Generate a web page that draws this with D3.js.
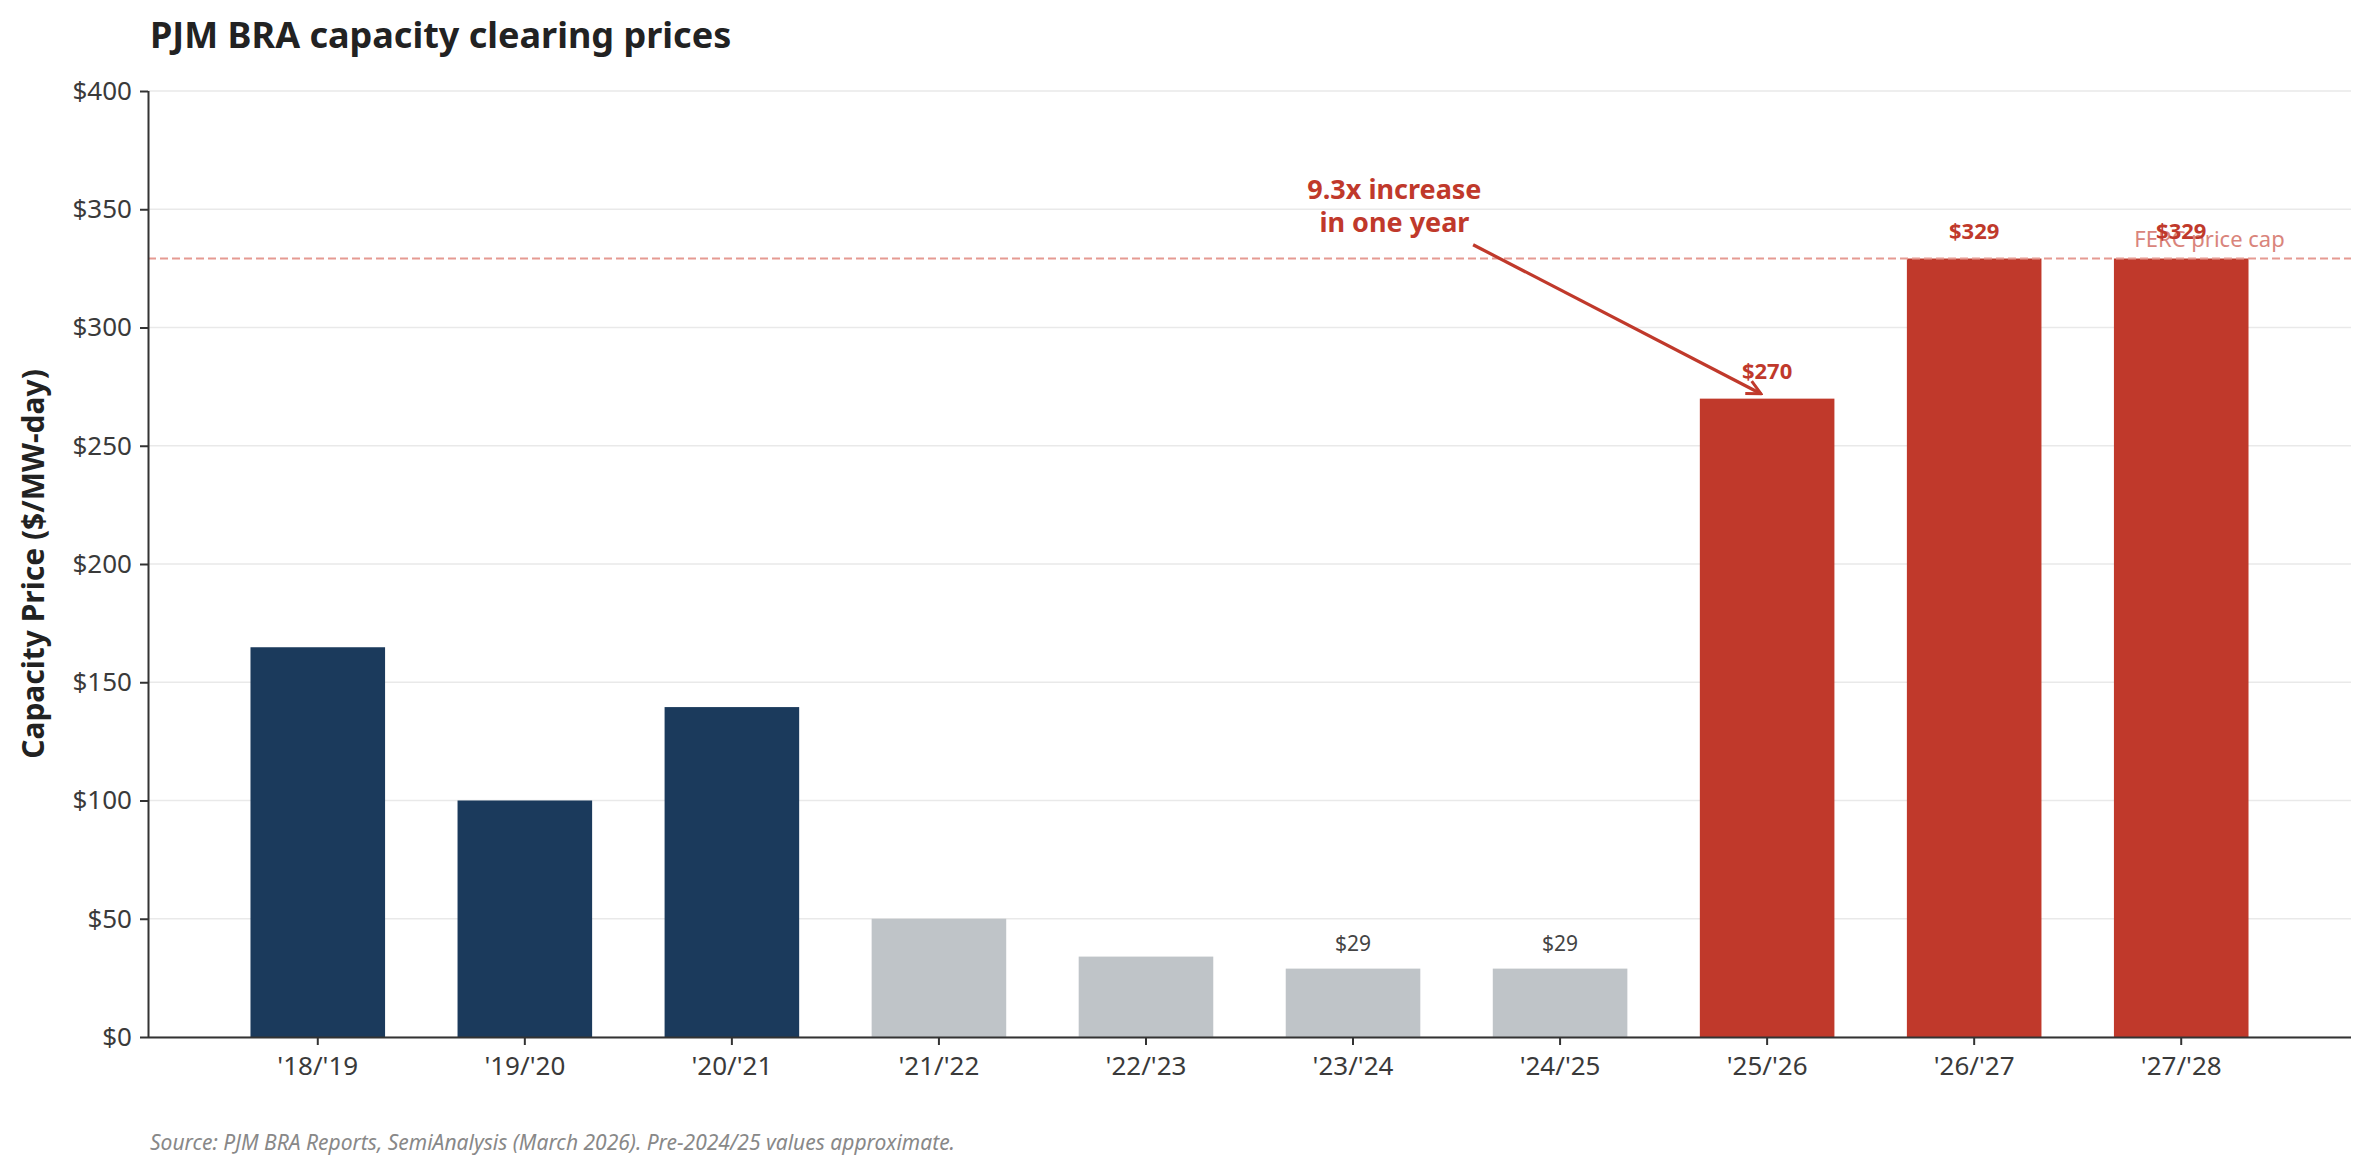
<!DOCTYPE html>
<html>
<head>
<meta charset="utf-8">
<script src="https://cdn.jsdelivr.net/npm/d3@7"></script>
<style>
  body { margin: 0; background: #fff; }
  svg { display: block; font-family: "Noto Sans", "Open Sans", sans-serif; }
</style>
</head>
<body>
<div id="chart"></div>
<script>
// datos del grafico
const periodos = ["'18/'19", "'19/'20", "'20/'21", "'21/'22", "'22/'23", "'23/'24", "'24/'25", "'25/'26", "'26/'27", "'27/'28"];
const precios = [164.8, 100, 139.5, 50, 34, 28.92, 28.92, 269.92, 329.17, 329.17];
const grupos = ["old", "old", "old", "low", "low", "low", "low", "new", "new", "new"];
const etiquetas = [null, null, null, null, null, "$29", "$29", "$270", "$329", "$329"];
const yTicks = [0, 50, 100, 150, 200, 250, 300, 350, 400];
const precioTope = 329.17;

const colores = { old: "#1b3a5c", low: "#bfc4c8", new: "#c0392b" };

const width = 2371;
const height = 1176;
const margin = { top: 91, right: 20, bottom: 139, left: 148 };

const svg = d3.select("#chart")
  .append("svg")
  .attr("width", width)
  .attr("height", height);

const x = d3.scaleBand()
  .domain(periodos)
  .range([margin.left, width - margin.right])
  .paddingInner(0.35)
  .paddingOuter(0.495);

const y = d3.scaleLinear()
  .domain([0, 400])
  .range([height - margin.bottom, margin.top]);

// posicion continua sobre el eje x (indice de categoria)
const xi = i => x(periodos[0]) + x.bandwidth() / 2 + i * x.step();

// lineas de cuadricula
svg.append("g")
  .selectAll("line")
  .data(yTicks)
  .enter().append("line")
  .attr("x1", margin.left)
  .attr("x2", width - margin.right)
  .attr("y1", d => y(d))
  .attr("y2", d => y(d))
  .attr("stroke", "#e9e9e9")
  .attr("stroke-width", 1.5);

// barras
svg.append("g")
  .selectAll("rect")
  .data(periodos)
  .enter().append("rect")
  .attr("x", d => x(d))
  .attr("width", x.bandwidth())
  .attr("y", (d, i) => y(precios[i]))
  .attr("height", (d, i) => y(0) - y(precios[i]))
  .attr("fill", (d, i) => colores[grupos[i]]);

// linea del tope FERC
svg.append("line")
  .attr("x1", margin.left)
  .attr("x2", width - margin.right)
  .attr("y1", y(precioTope))
  .attr("y2", y(precioTope))
  .attr("stroke", "#e59a92")
  .attr("stroke-width", 2)
  .attr("stroke-dasharray", "8,4");

svg.append("text")
  .attr("x", xi(9.5))
  .attr("y", y(precioTope) - 12)
  .attr("text-anchor", "end")
  .attr("fill", "#d9847b")
  .style("font-size", "22px")
  .text("FERC price cap");

// etiquetas de valores
svg.append("g")
  .selectAll("text")
  .data(periodos.filter((d, i) => etiquetas[i]))
  .enter().append("text")
  .attr("x", d => x(d) + x.bandwidth() / 2)
  .attr("y", d => y(precios[periodos.indexOf(d)]) - (grupos[periodos.indexOf(d)] === "new" ? 20 : 18))
  .attr("text-anchor", "middle")
  .attr("fill", d => grupos[periodos.indexOf(d)] === "new" ? "#c0392b" : "#444")
  .style("font-weight", d => grupos[periodos.indexOf(d)] === "new" ? "bold" : "normal")
  .style("font-size", d => grupos[periodos.indexOf(d)] === "new" ? "22px" : "21px")
  .text(d => etiquetas[periodos.indexOf(d)]);

// ejes
const yAxis = svg.append("g")
  .attr("transform", `translate(${margin.left},0)`)
  .call(d3.axisLeft(y).tickValues(yTicks).tickFormat(d => "$" + d).tickSize(8).tickPadding(8));

const xAxis = svg.append("g")
  .attr("transform", `translate(0,${y(0)})`)
  .call(d3.axisBottom(x).tickSize(8).tickPadding(12));

[yAxis, xAxis].forEach(ax => {
  ax.select(".domain").attr("stroke", "#333").attr("stroke-width", 2);
  ax.selectAll(".tick line").attr("stroke", "#333").attr("stroke-width", 2);
  ax.selectAll(".tick text")
    .attr("fill", "#3a3a3a")
    .style("font-size", "26px")
    .style("font-family", "'Noto Sans', sans-serif");
});
xAxis.select(".domain").attr("d", `M${margin.left},0.5H${width - margin.right}`);
yAxis.select(".domain").attr("d", `M0.5,${y(0)}V${y(400)}`);

// anotacion con flecha
svg.append("defs").append("marker")
  .attr("id", "punta")
  .attr("viewBox", "0 0 20 20")
  .attr("refX", 18)
  .attr("refY", 10)
  .attr("markerWidth", 20)
  .attr("markerHeight", 20)
  .attr("markerUnits", "userSpaceOnUse")
  .attr("orient", "auto")
  .append("path")
  .attr("d", "M4,3 L18,10 L4,17")
  .attr("fill", "none")
  .attr("stroke", "#c0392b")
  .attr("stroke-width", 3);

svg.append("line")
  .attr("x1", xi(5.58))
  .attr("y1", y(335))
  .attr("x2", xi(6.97))
  .attr("y2", y(272))
  .attr("stroke", "#c0392b")
  .attr("stroke-width", 3.2)
  .attr("marker-end", "url(#punta)");

const nota = svg.append("text")
  .attr("text-anchor", "middle")
  .attr("fill", "#c0392b")
  .style("font-weight", "bold")
  .style("font-size", "27px");
nota.append("tspan").attr("x", xi(5.2)).attr("y", y(354.5)).text("9.3x increase");
nota.append("tspan").attr("x", xi(5.2)).attr("y", y(340.5)).text("in one year");

// titulo del eje y
svg.append("text")
  .attr("transform", `translate(44,${(y(0) + y(400)) / 2}) rotate(-90)`)
  .attr("text-anchor", "middle")
  .attr("fill", "#222")
  .style("font-weight", "bold")
  .style("font-size", "30px")
  .text("Capacity Price ($/MW-day)");

// titulo
svg.append("text")
  .attr("x", 150)
  .attr("y", 48)
  .attr("fill", "#222")
  .style("font-weight", "bold")
  .style("font-size", "36px")
  .text("PJM BRA capacity clearing prices");

// fuente
svg.append("text")
  .attr("x", 150)
  .attr("y", 1150)
  .attr("fill", "#888")
  .style("font-style", "italic")
  .style("font-size", "21px")
  .text("Source: PJM BRA Reports, SemiAnalysis (March 2026). Pre-2024/25 values approximate.");
</script>
</body>
</html>
